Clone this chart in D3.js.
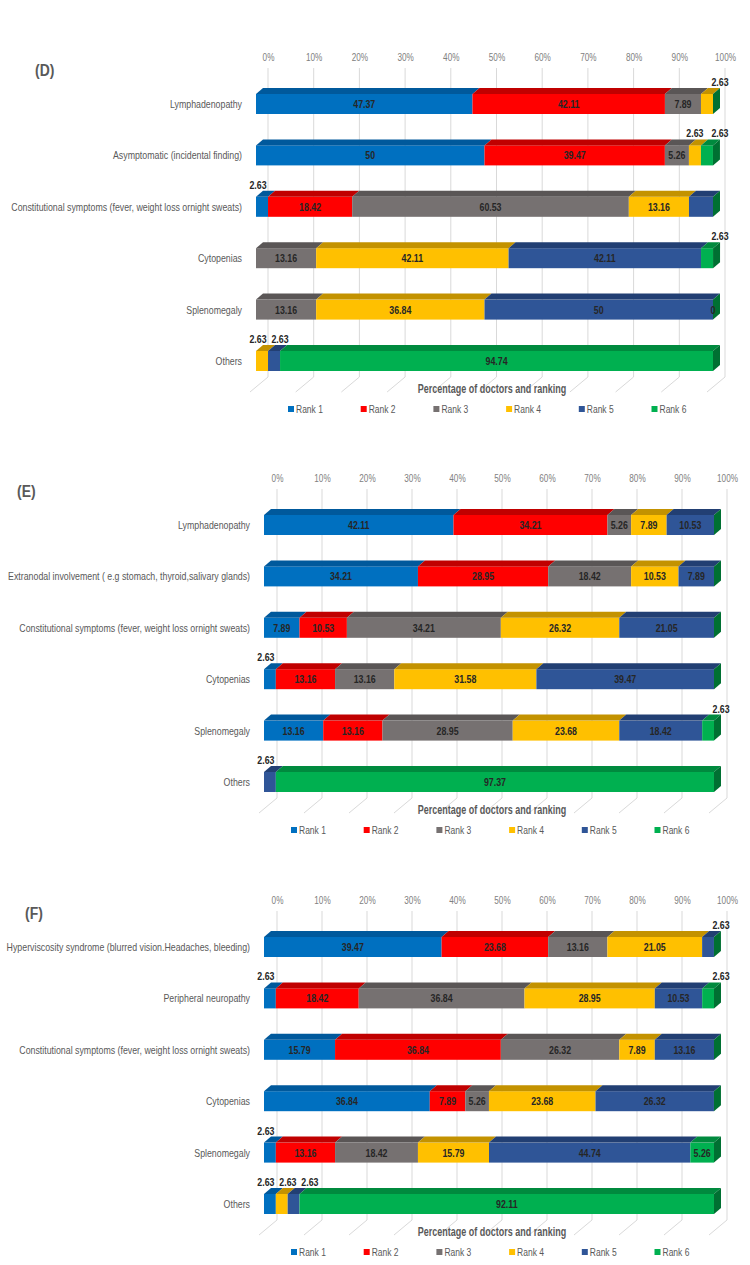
<!DOCTYPE html>
<html><head><meta charset="utf-8">
<script src="https://cdn.jsdelivr.net/npm/d3@7"></script>
<style>
body{margin:0;background:#fff}
svg{display:block}
text{font-family:'Liberation Sans',Arial,sans-serif}
</style>
</head><body>
<svg id="c" width="750" height="1265"></svg>
<script>
// ---------------- DATA ----------------
const rankNames = ["Rank 1", "Rank 2", "Rank 3", "Rank 4", "Rank 5", "Rank 6"];
const tickValues = [0, 10, 20, 30, 40, 50, 60, 70, 80, 90, 100];
const axisTitle = "Percentage of doctors and ranking";

const categoriesD = ["Lymphadenopathy", "Asymptomatic (incidental finding)",
  "Constitutional symptoms (fever, weight loss ornight sweats)", "Cytopenias", "Splenomegaly", "Others"];
// one row per rank, one value per category
const valuesD = [
  [47.37, 50, 2.63, 0, 0, 0],
  [42.11, 39.47, 18.42, 0, 0, 0],
  [7.89, 5.26, 60.53, 13.16, 13.16, 0],
  [2.63, 2.63, 13.16, 42.11, 36.84, 2.63],
  [0, 0, 5.26, 42.11, 50, 2.63],
  [0, 2.63, 0, 2.63, 0, 94.74]
];

const categoriesE = ["Lymphadenopathy", "Extranodal involvement ( e.g stomach, thyroid,salivary glands)",
  "Constitutional symptoms (fever, weight loss ornight sweats)", "Cytopenias", "Splenomegaly", "Others"];
const valuesE = [
  [42.11, 34.21, 7.89, 2.63, 13.16, 0],
  [34.21, 28.95, 10.53, 13.16, 13.16, 0],
  [5.26, 18.42, 34.21, 13.16, 28.95, 0],
  [7.89, 10.53, 26.32, 31.58, 23.68, 0],
  [10.53, 7.89, 21.05, 39.47, 18.42, 2.63],
  [0, 0, 0, 0, 2.63, 97.37]
];

const categoriesF = ["Hyperviscosity syndrome (blurred vision.Headaches, bleeding)", "Peripheral neuropathy",
  "Constitutional symptoms (fever, weight loss ornight sweats)", "Cytopenias", "Splenomegaly", "Others"];
const valuesF = [
  [39.47, 2.63, 15.79, 36.84, 2.63, 2.63],
  [23.68, 18.42, 36.84, 7.89, 13.16, 0],
  [13.16, 36.84, 26.32, 5.26, 18.42, 0],
  [21.05, 28.95, 7.89, 23.68, 15.79, 2.63],
  [2.63, 10.53, 13.16, 26.32, 44.74, 2.63],
  [0, 2.63, 0, 0, 5.26, 92.11]
];

// ---------------- STYLE ----------------
const colors = ["#0070C0", "#FF0000", "#767171", "#FFC000", "#2F5597", "#00B050"];
const topColors = ["#00599C", "#C00000", "#5A5656", "#C39200", "#223F73", "#008A3E"];
const sideColor = "#007032";
const gridColor = "#d9d9d9";
const textGray = "#595959";

const panels = [
  {tag: "(D)", cats: categoriesD, vals: valuesD, oy: 0, x0: 256, x1: 713, back: 12, labelRight: 242, tagX: 35, legendX: 288,
   hidden: ["2-4"], zeros: ["4-5"]},
  {tag: "(E)", cats: categoriesE, vals: valuesE, oy: 421, x0: 264, x1: 714, back: 13, labelRight: 250, tagX: 17, legendX: 291,
   hidden: [], zeros: []},
  {tag: "(F)", cats: categoriesF, vals: valuesF, oy: 843, x0: 264, x1: 714, back: 13, labelRight: 250, tagX: 25, legendX: 291,
   hidden: [], zeros: []}
];

const svg = d3.select("#c");
const depthX = 7, depthY = 6, barH = 20;

// condensed text helper (mimics a narrow office font)
function addText(parent, x, y, str, o) {
  return parent.append("text")
    .attr("transform", `translate(${x},${y}) scale(${o.sx || 0.74},1)`)
    .attr("text-anchor", o.anchor || "start")
    .attr("font-size", o.size || 11)
    .attr("font-weight", o.weight || "normal")
    .attr("fill", o.fill || textGray)
    .text(str);
}

panels.forEach(p => {
  const g = svg.append("g").attr("transform", `translate(0,${p.oy})`);
  const xF = d3.scaleLinear().domain([0, 100]).range([p.x0, p.x1]);
  const xB = d3.scaleLinear().domain([0, 100]).range([p.x0 + p.back, p.x1 + p.back]);
  const y = d3.scaleBand().domain(p.cats).range([78.3, 386.7]).padding(0);

  // panel tag
  addText(g, p.tagX, 76, p.tag, {size: 17, weight: "bold", sx: 0.82});

  // gridlines (back wall + floor)
  g.append("g").selectAll("path").data(tickValues).join("path")
    .attr("d", d => `M${xB(d)},68V377L${xB(d) - 18},392`)
    .attr("fill", "none").attr("stroke", gridColor).attr("stroke-width", 1);

  // top axis labels
  const ax = g.append("g").attr("transform", "translate(0,61)")
    .call(d3.axisTop(xB).tickValues(tickValues).tickFormat(d => d + "%").tickSize(0).tickPadding(0));
  ax.select(".domain").remove();
  ax.selectAll("text").attr("font-family", "'Liberation Sans',Arial,sans-serif")
    .attr("font-size", 10).attr("fill", "#808080").attr("transform", "scale(0.82,1)");

  // bars
  p.cats.forEach((cat, ci) => {
    const cy = y(cat) + y.bandwidth() / 2;
    const top = cy - barH / 2, bot = cy + barH / 2;
    let cum = 0;
    const segs = p.vals.map((series, ri) => {
      const s = {ri, v: series[ci], a: cum, b: cum + series[ci]};
      cum += series[ci];
      return s;
    });
    const bg = g.append("g");
    segs.forEach(s => {
      const xa = xF(s.a), xb = xF(s.b);
      if (s.v <= 0) return;
      bg.append("rect").attr("x", xa).attr("y", top).attr("width", xb - xa).attr("height", barH)
        .attr("fill", colors[s.ri]);
      bg.append("path")
        .attr("d", `M${xa},${top}L${xb},${top}L${xb + depthX},${top - depthY}L${xa + depthX},${top - depthY}Z`)
        .attr("fill", topColors[s.ri]);
    });
    const xe = xF(cum);
    bg.append("path")
      .attr("d", `M${xe},${top}L${xe + depthX},${top - depthY}L${xe + depthX},${bot - depthY}L${xe},${bot}Z`)
      .attr("fill", sideColor);

    // category label
    addText(g, p.labelRight, cy + 4, cat, {size: 11, anchor: "end", sx: 0.8});

    // value labels
    const nonzero = segs.filter(s => s.v > 0);
    const lastRi = nonzero.length ? nonzero[nonzero.length - 1].ri : -1;
    let prevAboveX = -1e9;
    segs.forEach(s => {
      const key = ci + "-" + s.ri;
      if (p.hidden.includes(key)) return;
      if (s.v === 0 && !p.zeros.includes(key)) return;
      const cx = (xF(s.a) + xF(s.b)) / 2;
      if (s.v > 0 && s.v < 4) {
        let lx = cx;
        if (s.a === 0) lx = cx - 4;
        else if (s.ri === lastRi) lx = cx + 13;
        if (lx < prevAboveX + 22) lx = prevAboveX + 22;
        prevAboveX = lx;
        addText(g, lx, top - 8, String(s.v), {size: 11, weight: "bold", anchor: "middle", fill: "#262626", sx: 0.8});
      } else {
        addText(g, cx, cy + 4, String(s.v), {size: 11, weight: "bold", anchor: "middle", fill: "#262626", sx: 0.8});
      }
    });
  });

  // axis title
  addText(g, 492, 393, axisTitle, {size: 12, weight: "bold", anchor: "middle", sx: 0.75});

  // legend
  const lg = g.append("g").attr("transform", `translate(${p.legendX},409)`);
  rankNames.forEach((r, i) => {
    const it = lg.append("g").attr("transform", `translate(${i * 72.7},0)`);
    it.append("rect").attr("x", 0).attr("y", -3).attr("width", 6).attr("height", 6).attr("fill", colors[i]);
    addText(it, 8, 3.5, r, {size: 10, sx: 0.85});
  });
});
</script>
</body></html>
